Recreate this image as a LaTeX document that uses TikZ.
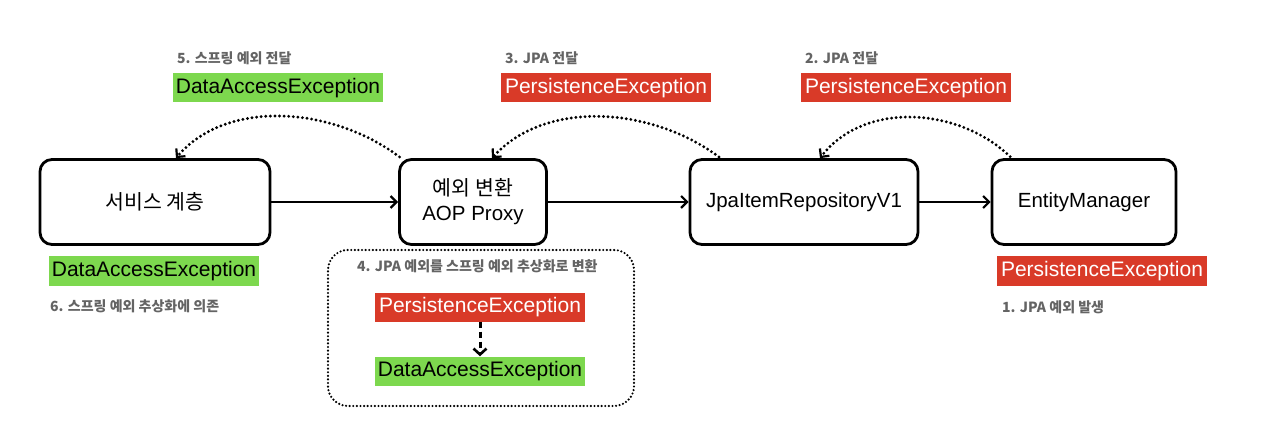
\documentclass[tikz,border=0pt]{standalone}
\usepackage{fontspec}
\setmainfont{Liberation Sans}
\newfontfamily\kr{Noto Sans CJK KR}
\usetikzlibrary{arrows.meta}
\definecolor{exred}{RGB}{217,58,40}
\definecolor{exgreen}{RGB}{125,216,78}
\definecolor{labgray}{RGB}{100,100,100}
\begin{document}
\begin{tikzpicture}[x=1pt,y=-1pt,
  comp/.style={draw=black, line width=2.8pt, rounded corners=12pt, minimum height=85pt, font=\fontsize{20.5}{25}\selectfont, align=center},
  redex/.style={fill=exred, text=white, font=\fontsize{21}{24}\selectfont, minimum width=210pt, minimum height=29pt, inner sep=0pt},
  greenex/.style={fill=exgreen, text=black, font=\fontsize{21}{24}\selectfont, minimum width=210pt, minimum height=29pt, inner sep=0pt},
  steplabel/.style={text=labgray, font=\kr\bfseries\fontsize{14}{16}\selectfont, anchor=west, inner sep=0pt},
  flow/.style={line width=2.2pt, -{Straight Barb[length=6pt,width=12pt,line width=2.2pt]}},
  back/.style={line width=3.2pt, line cap=round, dash pattern=on 0pt off 4.6pt, -{Straight Barb[length=6pt,width=12pt,line width=2.2pt]}}
]
\useasboundingbox (0,0) rectangle (1268,446);

% main components
\node[comp, minimum width=230pt] (svc) at (155,202) {{\kr 서비스 계층}};
\node[comp, minimum width=147pt] (aop) at (473,202) {{\kr 예외 변환}\\AOP Proxy};
\node[comp, minimum width=228pt] (jpa) at (804,202) {JpaItemRepositoryV1};
\node[comp, minimum width=184pt] (em) at (1084,202) {EntityManager};

% forward calls
\draw[flow] (svc.east) -- (aop.west);
\draw[flow] (aop.east) -- (jpa.west);
\draw[flow] (jpa.east) -- (em.west);

% exception propagation (dotted)
\draw[back, shorten <=2pt] ([xshift=3pt]aop.north west) .. controls (330,105) and (225,100) .. ([xshift=21pt]svc.north);
\draw[back, shorten <=2pt] ([xshift=32pt]jpa.north west) .. controls (650,106) and (545,100) .. ([xshift=19pt]aop.north);
\draw[back, shorten <=2pt] ([xshift=21pt]em.north west) .. controls (960,108) and (865,100) .. ([xshift=16pt]jpa.north);

% top labels
\node[steplabel] (l5) at (177,58) {5. 스프링 예외 전달};
\node[greenex] (g5) at (278,88) {DataAccessException};
\node[steplabel] (l3) at (505,58) {3. JPA 전달};
\node[redex] (r3) at (606,88) {PersistenceException};
\node[steplabel] (l2) at (805,58) {2. JPA 전달};
\node[redex] (r2) at (906,88) {PersistenceException};

% bottom labels
\node[greenex] (g6) at (154,271) {DataAccessException};
\node[steplabel] (l6) at (50,306) {6. 스프링 예외 추상화에 의존};
\node[redex] (r1) at (1102,271) {PersistenceException};
\node[steplabel] (l1) at (1002,307) {1. JPA 예외 발생};

% conversion group
\node[draw=black, line width=2.4pt, line cap=round, dash pattern=on 0pt off 3.6pt, rounded corners=20pt, minimum width=306pt, minimum height=156pt] (grp) at (481,328) {};
\node[steplabel] (l4) at (357,266) {4. JPA 예외를 스프링 예외 추상화로 변환};
\node[redex] (r4) at (480,307) {PersistenceException};
\node[greenex] (g4) at (480,371) {DataAccessException};
\draw[line width=3pt, dash pattern=on 6pt off 4pt, -{Straight Barb[length=6pt,width=13pt,line width=2.6pt]}] (r4.south) -- (g4.north);
\end{tikzpicture}
\end{document}
